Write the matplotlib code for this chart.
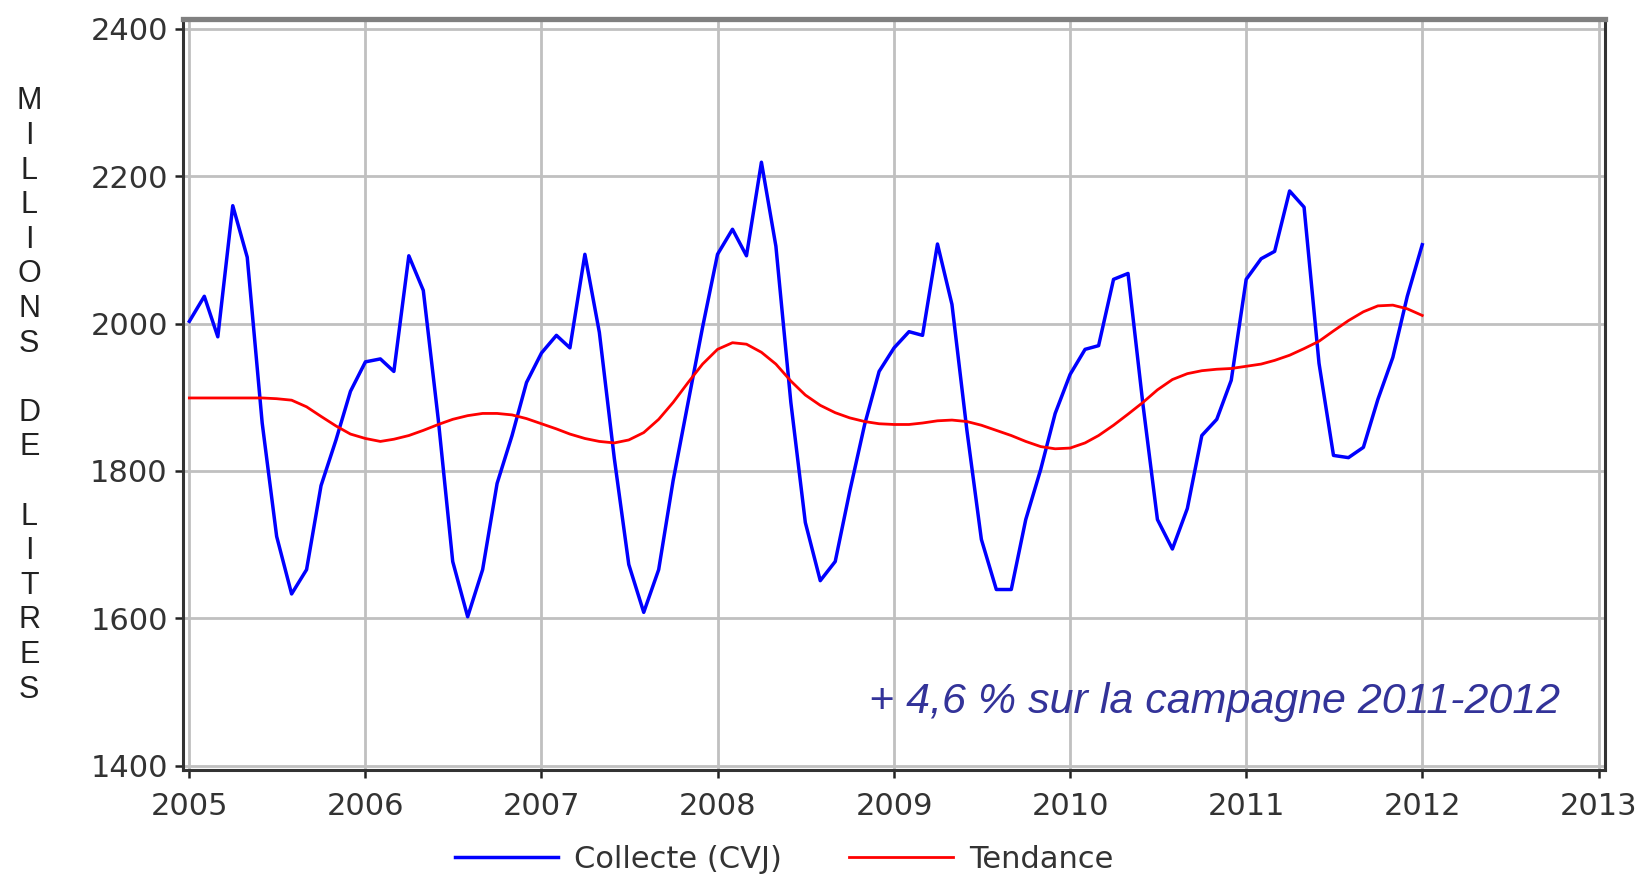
import matplotlib
matplotlib.use("Agg")
import matplotlib.pyplot as plt
import matplotlib.dates as mdates
import pandas as pd

# collecte mensuelle (CVJ), millions de litres, janv 2005 -> janv 2012
collecte = [
    2003, 2037, 1982, 2160, 2090, 1865, 1711, 1633, 1666, 1780, 1842, 1908,  # 2005
    1948, 1952, 1935, 2092, 2045, 1870, 1677, 1602, 1666, 1783, 1848, 1920,  # 2006
    1960, 1984, 1967, 2094, 1988, 1817, 1673, 1608, 1666, 1787, 1893, 1995,  # 2007
    2094, 2128, 2092, 2219, 2105, 1893, 1730, 1651, 1677, 1772, 1863, 1935,  # 2008
    1967, 1989, 1984, 2108, 2026, 1855, 1707, 1639, 1639, 1734, 1802, 1878,  # 2009
    1931, 1965, 1970, 2060, 2068, 1890, 1734, 1694, 1749, 1848, 1870, 1923,  # 2010
    2060, 2088, 2098, 2180, 2158, 1946, 1821, 1818, 1832, 1897, 1954, 2037,  # 2011
    2107,                                                                    # 2012
]
tendance = [
    1899, 1899, 1899, 1899, 1899, 1899, 1898, 1896, 1887, 1874, 1861, 1850,
    1844, 1840, 1843, 1848, 1855, 1863, 1870, 1875, 1878, 1878, 1876, 1871,
    1864, 1857, 1850, 1844, 1840, 1838, 1842, 1852, 1870, 1893, 1920, 1945,
    1965, 1974, 1972, 1961, 1945, 1922, 1903, 1889, 1879, 1872, 1867, 1864,
    1863, 1863, 1865, 1868, 1869, 1867, 1862, 1855, 1848, 1840, 1833, 1830,
    1831, 1838, 1848, 1862, 1877, 1893, 1910, 1924, 1932, 1936, 1938, 1939,
    1942, 1945, 1950, 1957, 1966, 1976, 1990, 2004, 2016, 2024, 2025, 2020,
    2011,
]
dates = pd.date_range("2005-01-01", "2012-01-01", freq="MS")
annees = list(range(2005, 2014))
y_ticks = [1400, 1600, 1800, 2000, 2200, 2400]
y_label = "MILLIONS DE LITRES"
note = "+ 4,6 % sur la campagne 2011-2012"

fig = plt.figure(figsize=(16.42, 8.77), dpi=100)
ax = fig.add_axes([0.1115, 0.122, 0.866, 0.856])

ax.plot(dates, collecte, color="#0000ff", lw=2.5, label="Collecte (CVJ)", zorder=3)
ax.plot(dates, tendance, color="#ff0000", lw=2.0, label="Tendance", zorder=3)

ax.set_xlim(pd.Timestamp("2004-12-19"), pd.Timestamp("2013-01-14"))
ax.set_ylim(1394, 2413)
ax.set_xticks([pd.Timestamp(f"{a}-01-01") for a in annees])
ax.xaxis.set_major_formatter(mdates.DateFormatter("%Y"))
ax.set_yticks(y_ticks)

ax.grid(True, color="#c0c0c0", lw=2, zorder=0)
ax.tick_params(axis="both", labelsize=22, colors="#222222", length=6, width=1.8,
               direction="out")
ax.tick_params(axis="y", pad=5)
ax.tick_params(axis="x", pad=10)
for lab in ax.get_xticklabels() + ax.get_yticklabels():
    lab.set_color("#333333")

ax.spines["top"].set_color("#808080")
ax.spines["top"].set_linewidth(3.8)
for s in ["left", "bottom", "right"]:
    ax.spines[s].set_color("#333333")
    ax.spines[s].set_linewidth(2.2)

# libelle vertical, une lettre par ligne
lettres = "\n".join(y_label)
fig.text(0.0178, 0.549, lettres, ha="center", va="center", fontsize=22,
         color="#222222", linespacing=1.2, family="Liberation Sans")

ax.text(0.968, 0.09, note, transform=ax.transAxes, ha="right", va="center",
        fontsize=31, style="italic", color="#333399", family="Liberation Sans")

fig.legend(loc="center", bbox_to_anchor=(0.4775, 0.0205), ncol=2, frameon=False,
           fontsize=22, handlelength=3.4, columnspacing=2.2, handletextpad=0.52,
           labelcolor="#333333")

fig.savefig("out.png", dpi=100)
